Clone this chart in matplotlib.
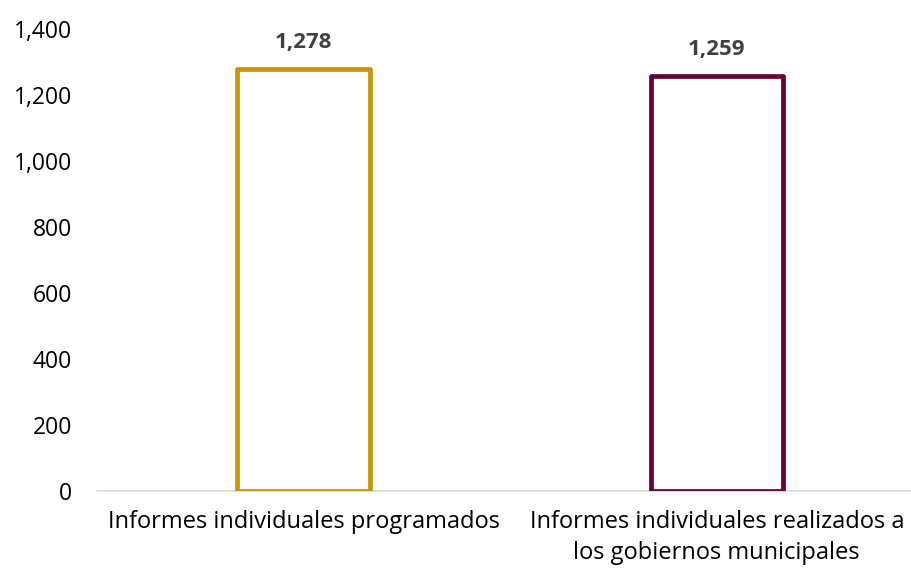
import matplotlib.pyplot as plt
from matplotlib.ticker import FuncFormatter

plt.rcParams['font.family'] = ['Open Sans', 'DejaVu Sans']

categories = ['Informes individuales programados',
              'Informes individuales realizados a\nlos gobiernos municipales']
values = [1278, 1259]
colors = ['#C8960A', '#6B0033']
yticks = [0, 200, 400, 600, 800, 1000, 1200, 1400]

fig = plt.figure(figsize=(9.11, 5.69), dpi=100)
ax = fig.add_axes([97 / 911, 1 - 491 / 569, 1 - 97 / 911, (491 - 29) / 569])

x = range(len(categories))
bars = ax.bar(x, values, width=0.32, facecolor='white', edgecolor=colors,
              linewidth=3.4, zorder=3)
for b in bars:
    b.set_joinstyle('round')

for bar, v in zip(bars, values):
    ax.annotate(f'{v:,}', (bar.get_x() + bar.get_width() / 2, v),
                xytext=(0, 19), textcoords='offset points',
                ha='center', va='center', fontsize=16, fontweight='bold',
                color='#404040')

ax.set_xlim(-0.5, 1.47)
ax.set_ylim(0, 1400)
ax.set_yticks(yticks)
ax.yaxis.set_major_formatter(FuncFormatter(lambda v, p: f'{int(v):,}'))
ax.set_xticks(list(x))
ax.set_xticklabels(categories, linespacing=1.35)
ax.tick_params(axis='both', length=0, colors='#000000')
ax.tick_params(axis='y', pad=18, labelsize=16.5)
ax.tick_params(axis='x', pad=14, labelsize=17)

for s in ['top', 'right', 'left']:
    ax.spines[s].set_visible(False)
ax.spines['bottom'].set_color('#D9D9D9')
ax.spines['bottom'].set_linewidth(1.2)

fig.savefig('out.png', dpi=100)
